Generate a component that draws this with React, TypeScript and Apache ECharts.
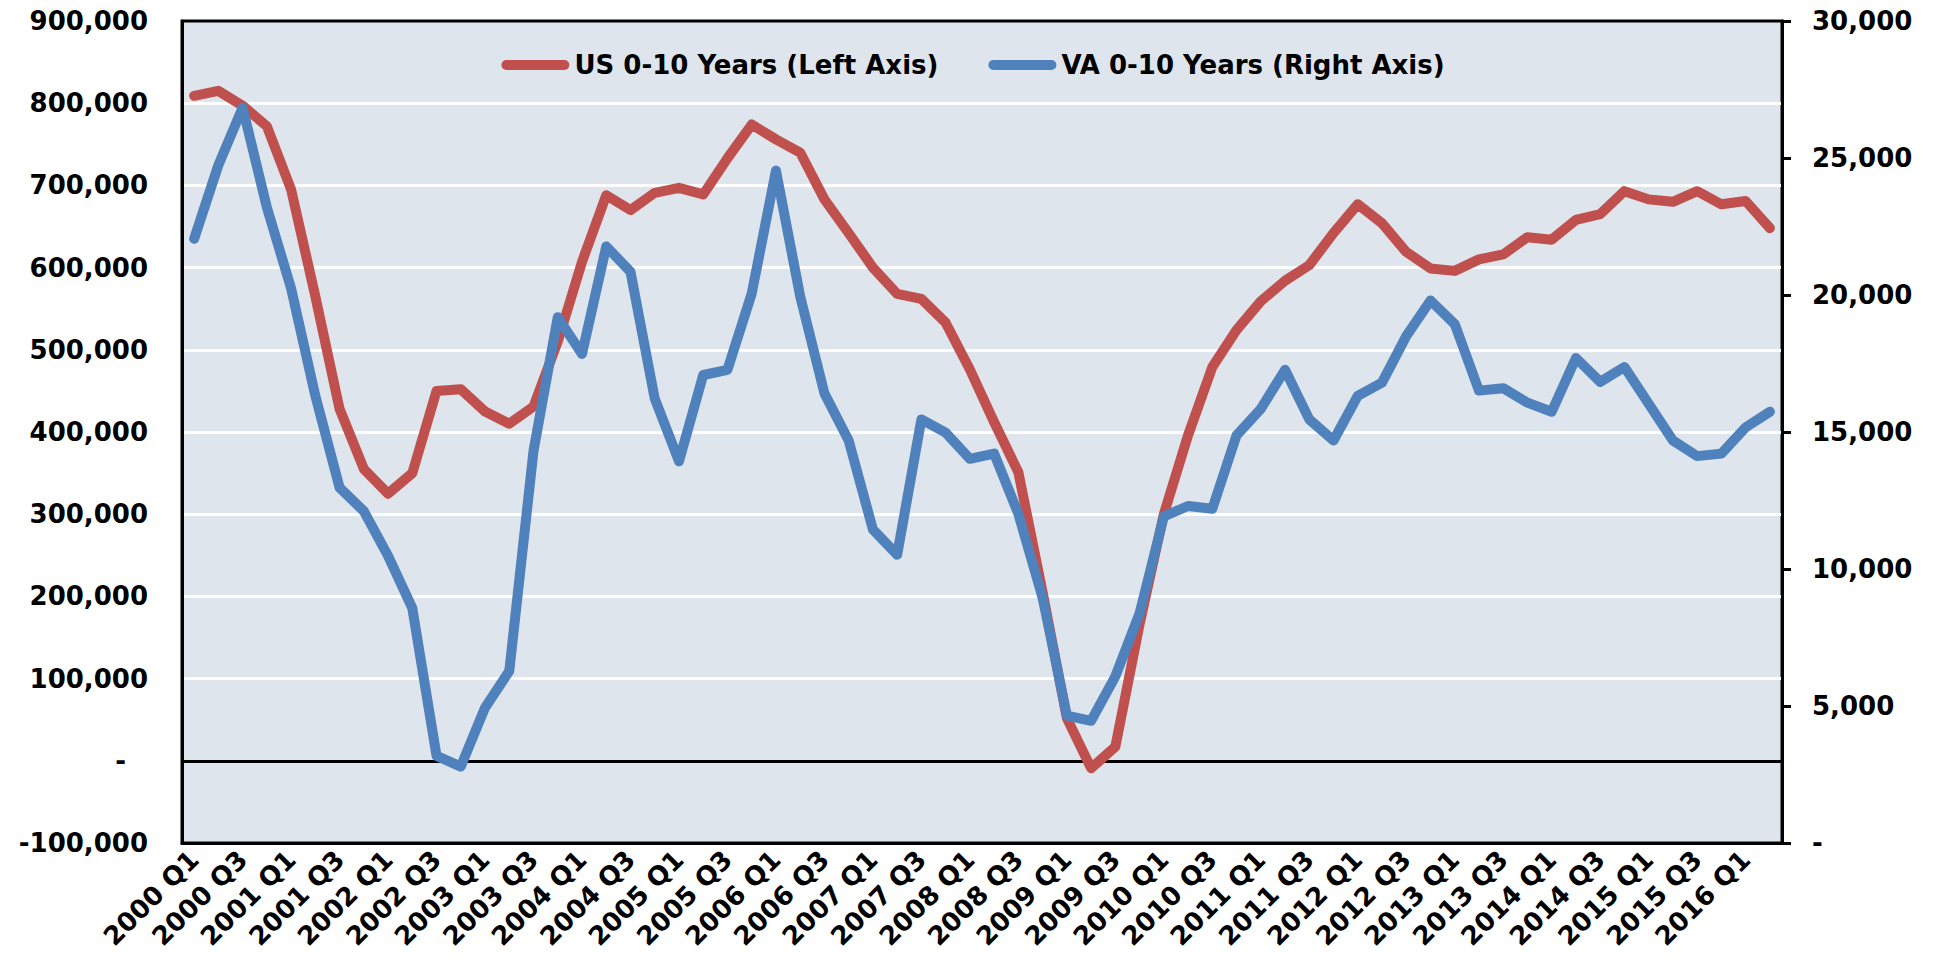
import React, { useEffect, useRef } from "react";
import * as echarts from "echarts";

const years = ["2000","2001","2002","2003","2004","2005","2006","2007","2008","2009","2010","2011","2012","2013","2014","2015","2016"];
const quarters = ["Q1", "Q2", "Q3", "Q4"];
const categories: string[] = [];
years.forEach((y) => quarters.forEach((q) => categories.push(`${y} ${q}`)));
categories.length = 66; // 2000 Q1 .. 2016 Q2

const usSeriesName = "US 0-10 Years (Left Axis)";
const vaSeriesName = "VA 0-10 Years (Right Axis)";

const usValues = [
  809000, 815000, 797000, 772000, 695000, 565000, 428000, 355000, 325000, 350000,
  450000, 452000, 425000, 410000, 431000, 510000, 607000, 688000, 670000, 691000,
  697000, 689000, 733000, 774000, 756000, 740000, 683000, 642000, 600000, 568000,
  562000, 533000, 476000, 412000, 351000, 205000, 52000, -9000, 17000, 166000,
  300000, 396000, 479000, 524000, 559000, 584000, 603000, 642000, 677000, 654000,
  619000, 599000, 596000, 610000, 616000, 637000, 634000, 658000, 665000, 693000,
  683000, 680000, 693000, 677000, 681000, 648000,
];

const vaValues = [
  22050, 24740, 26840, 23200, 20240, 16320, 12970, 12110, 10480, 8570,
  3180, 2790, 4940, 6280, 14310, 19190, 17850, 21770, 20850, 16220,
  13930, 17080, 17270, 20050, 24540, 19950, 16410, 14690, 11440, 10520,
  15460, 14980, 14020, 14210, 12010, 8950, 4650, 4460, 6080, 8380,
  11920, 12300, 12200, 14880, 15840, 17270, 15460, 14690, 16320, 16800,
  18500, 19800, 18940, 16510, 16600, 16070, 15740, 17700, 16830, 17370,
  16030, 14690, 14120, 14210, 15170, 15740,
];

const FONT = "DejaVu Sans";
const FS = 26;
const RED = "#C0504D";
const BLUE = "#4F81BD";

const fmt = (v: number) => v.toLocaleString("en-US");

export default function App() {
  const ref = useRef<HTMLDivElement>(null);

  useEffect(() => {
    if (!ref.current) return;
    const chart = echarts.init(ref.current, undefined, { renderer: "svg" });
    const capsule = "path://M5,0 L63,0 A5,5 0 0 1 63,10 L5,10 A5,5 0 0 1 5,0 Z";
    chart.setOption({
      animation: false,
      textStyle: { fontFamily: FONT },
      legend: {
        top: 47,
        left: "center",
        itemWidth: 68,
        itemHeight: 11,
        itemGap: 50,
        textStyle: { fontFamily: FONT, fontSize: FS, fontWeight: "bold", color: "#000" },
        data: [
          { name: usSeriesName, icon: capsule },
          { name: vaSeriesName, icon: capsule },
        ],
      },
      grid: {
        left: 182,
        right: 164,
        top: 21,
        bottom: 128,
        show: true,
        backgroundColor: "#DEE5EC",
        borderColor: "#000",
        borderWidth: 3,
      },
      xAxis: {
        type: "category",
        data: categories,
        boundaryGap: true,
        axisLine: { onZero: false, lineStyle: { color: "#000", width: 3 } },
        axisTick: { show: false },
        axisLabel: {
          interval: 1,
          rotate: 45,
          margin: 12,
          color: "#000",
          fontFamily: FONT,
          fontSize: FS,
          fontWeight: "bold",
        },
        splitLine: { show: false },
      },
      yAxis: [
        {
          type: "value",
          min: -100000,
          max: 900000,
          interval: 100000,
          position: "left",
          axisLine: { show: true, lineStyle: { color: "#000", width: 3 } },
          axisTick: { show: false },
          axisLabel: {
            margin: 34,
            color: "#000",
            fontFamily: FONT,
            fontSize: FS,
            fontWeight: "bold",
            formatter: (v: number) => (v === 0 ? "{z|-}" : fmt(v)),
            rich: {
              z: { fontFamily: FONT, fontSize: FS, fontWeight: "bold", color: "#000", padding: [0, 22, 0, 0] },
            },
          },
          splitLine: { show: true, showMinLine: false, showMaxLine: false, lineStyle: { color: "#FFFFFF", width: 3 } },
        },
        {
          type: "value",
          min: 0,
          max: 30000,
          interval: 5000,
          position: "right",
          axisLine: { show: true, lineStyle: { color: "#000", width: 3 } },
          axisTick: { show: true, inside: false, length: 9, lineStyle: { color: "#000", width: 3 } },
          axisLabel: {
            margin: 30,
            color: "#000",
            fontFamily: FONT,
            fontSize: FS,
            fontWeight: "bold",
            formatter: (v: number) => (v === 0 ? "-" : fmt(v)),
          },
          splitLine: { show: false },
        },
      ],
      series: [
        {
          name: usSeriesName,
          type: "line",
          yAxisIndex: 0,
          data: usValues,
          showSymbol: false,
          symbol: "none",
          color: RED,
          lineStyle: { color: RED, width: 10, cap: "round", join: "round" },
          markLine: {
            silent: true,
            symbol: "none",
            label: { show: false },
            lineStyle: { color: "#000", width: 3, type: "solid" },
            data: [{ yAxis: 0 }],
            z: 1,
          },
          z: 2,
        },
        {
          name: vaSeriesName,
          type: "line",
          yAxisIndex: 1,
          data: vaValues,
          showSymbol: false,
          symbol: "none",
          color: BLUE,
          lineStyle: { color: BLUE, width: 10, cap: "round", join: "round" },
          z: 3,
        },
      ],
    });
    return () => chart.dispose();
  }, []);

  return (
    <div
      ref={ref}
      style={{ position: "fixed", left: 0, top: 0, width: 1946, height: 971, background: "#fff" }}
    />
  );
}
